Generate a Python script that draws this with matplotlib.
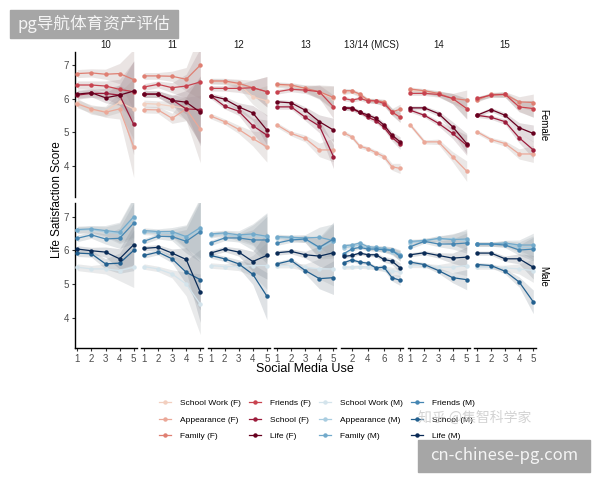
import matplotlib
matplotlib.use("Agg")
import matplotlib.pyplot as plt
from matplotlib.lines import Line2D
from matplotlib.patches import Rectangle

plt.rcParams['font.family'] = ['Liberation Sans', 'DejaVu Sans']

# panels (age groups) and social media use levels
ages = ['10', '11', '12', '13', '13/14 (MCS)', '14', '15']
use_5 = [1, 2, 3, 4, 5]
use_mcs = [1, 2, 3, 4, 5, 6, 7, 8]

# Female series, one list per age panel
school_work_f = [[5.89, 5.66, 5.63, 5.90, 5.70], [5.86, 5.84, 5.78, 5.72, 5.66],
                 [6.52, 6.50, 6.44, 6.06, 5.94], [6.40, 6.38, 6.30, 6.18, 6.02],
                 [6.20, 6.22, 6.10, 5.95, 5.92, 5.88, 5.62, 5.45],
                 [6.25, 6.22, 6.15, 6.00, 5.70], [6.00, 6.10, 6.12, 5.78, 5.70]]
appearance_f = [[5.85, 5.70, 5.60, 5.70, 4.57], [5.68, 5.67, 5.42, 5.70, 5.10],
                [5.49, 5.32, 5.09, 4.82, 4.57], [5.22, 4.97, 4.82, 4.48, 4.48],
                [4.99, 4.87, 4.59, 4.52, 4.40, 4.28, 3.98, 3.93],
                [5.22, 4.72, 4.72, 4.28, 3.85], [5.02, 4.79, 4.67, 4.36, 4.36]]
family_f = [[6.75, 6.77, 6.73, 6.75, 6.57], [6.68, 6.68, 6.67, 6.58, 7.00],
            [6.53, 6.53, 6.46, 6.33, 6.21], [6.43, 6.41, 6.31, 6.21, 6.04],
            [6.24, 6.24, 6.14, 5.96, 5.94, 5.91, 5.61, 5.69],
            [6.29, 6.24, 6.16, 6.01, 5.96], [5.96, 6.13, 6.13, 5.91, 5.89]]
friends_f = [[6.41, 6.41, 6.38, 6.28, 6.21], [6.35, 6.43, 6.33, 6.38, 6.50],
             [6.31, 6.31, 6.31, 6.33, 6.21], [6.21, 6.28, 6.26, 6.21, 5.76],
             [6.01, 5.96, 6.01, 5.94, 5.94, 5.86, 5.61, 5.45],
             [6.16, 6.16, 6.13, 6.01, 5.71], [6.01, 6.11, 6.13, 5.76, 5.71]]
school_f = [[6.11, 6.16, 6.16, 6.11, 5.24], [6.14, 6.14, 5.97, 5.70, 5.68],
            [6.09, 5.78, 5.63, 5.20, 4.92], [5.76, 5.76, 5.45, 5.19, 4.28],
            [5.73, 5.70, 5.60, 5.45, 5.35, 5.15, 4.85, 4.65],
            [5.66, 5.51, 5.27, 4.97, 4.62], [5.51, 5.45, 5.32, 4.84, 4.48]]
life_f = [[6.14, 6.18, 6.03, 6.11, 6.23], [6.14, 6.14, 5.95, 5.90, 5.60],
          [6.09, 5.99, 5.76, 5.58, 5.07], [5.91, 5.88, 5.66, 5.32, 5.07],
          [5.73, 5.73, 5.60, 5.52, 5.42, 5.22, 4.92, 4.72],
          [5.73, 5.73, 5.56, 5.17, 4.67], [5.51, 5.68, 5.51, 5.14, 4.97]]

# Male series
school_work_m = [[5.50, 5.45, 5.45, 5.40, 5.50], [5.52, 5.45, 5.30, 5.00, 4.40],
                 [5.55, 5.52, 5.52, 5.55, 5.55], [5.55, 5.55, 5.50, 5.45, 5.45],
                 [5.50, 5.50, 5.52, 5.50, 5.48, 5.45, 5.40, 5.35],
                 [5.55, 5.55, 5.50, 5.50, 5.55], [5.50, 5.50, 5.48, 5.45, 5.40]]
appearance_m = [[6.60, 6.62, 6.55, 6.50, 6.95], [6.55, 6.52, 6.50, 6.38, 6.62],
                [6.45, 6.50, 6.40, 6.45, 6.38], [6.38, 6.36, 6.33, 6.05, 6.27],
                [6.08, 6.12, 6.16, 6.06, 6.04, 6.03, 5.96, 5.85],
                [6.22, 6.30, 6.33, 6.35, 6.28], [6.18, 6.18, 6.20, 6.10, 6.08]]
family_m = [[6.62, 6.64, 6.59, 6.54, 7.00], [6.59, 6.56, 6.56, 6.41, 6.68],
            [6.49, 6.52, 6.46, 6.49, 6.42], [6.41, 6.39, 6.37, 6.39, 6.29],
            [6.14, 6.16, 6.22, 6.11, 6.09, 6.06, 6.00, 5.87],
            [6.27, 6.29, 6.36, 6.32, 6.34], [6.19, 6.19, 6.22, 6.16, 6.16]]
friends_m = [[6.36, 6.46, 6.34, 6.36, 6.81], [6.27, 6.42, 6.41, 6.27, 6.56],
             [6.22, 6.37, 6.37, 6.31, 6.31], [6.22, 6.31, 6.34, 6.09, 6.34],
             [5.90, 6.04, 6.09, 6.04, 6.04, 6.02, 6.00, 5.82],
             [6.11, 6.27, 6.19, 6.19, 6.22], [6.19, 6.19, 6.16, 6.01, 6.04]]
school_m = [[5.92, 5.90, 5.60, 5.62, 6.00], [5.85, 5.95, 5.75, 5.35, 5.13],
            [5.85, 5.75, 5.60, 5.29, 4.64], [5.60, 5.70, 5.40, 5.16, 5.19],
            [5.63, 5.72, 5.65, 5.62, 5.48, 5.50, 5.19, 5.11],
            [5.65, 5.58, 5.40, 5.19, 5.13], [5.58, 5.55, 5.38, 5.06, 4.47]]
life_m = [[6.04, 5.99, 5.95, 5.75, 6.17], [6.06, 6.09, 5.92, 5.73, 4.76],
          [5.92, 6.04, 5.95, 5.67, 5.85], [5.93, 5.97, 5.87, 5.83, 5.93],
          [5.82, 5.85, 5.92, 5.87, 5.87, 5.73, 5.68, 5.48],
          [5.87, 5.93, 5.85, 5.77, 5.80], [5.92, 5.92, 5.75, 5.75, 5.50]]

# confidence band half widths, per panel and use level
ci_f = [[0.12, 0.12, 0.15, 0.30, 0.90], [0.10, 0.10, 0.15, 0.35, 1.00],
        [0.08, 0.08, 0.12, 0.22, 0.45], [0.07, 0.07, 0.10, 0.20, 0.35],
        [0.07, 0.06, 0.06, 0.06, 0.07, 0.08, 0.10, 0.15],
        [0.06, 0.06, 0.08, 0.15, 0.30], [0.06, 0.06, 0.08, 0.15, 0.25]]
ci_m = [[0.10, 0.10, 0.15, 0.30, 0.60], [0.08, 0.08, 0.12, 0.35, 0.90],
        [0.08, 0.08, 0.12, 0.30, 0.70], [0.07, 0.07, 0.10, 0.30, 0.50],
        [0.06, 0.05, 0.05, 0.05, 0.06, 0.08, 0.10, 0.15],
        [0.06, 0.06, 0.08, 0.15, 0.30], [0.06, 0.06, 0.08, 0.15, 0.35]]

labels_f = ['School Work (F)', 'Appearance (F)', 'Family (F)', 'Friends (F)', 'School (F)', 'Life (F)']
labels_m = ['School Work (M)', 'Appearance (M)', 'Family (M)', 'Friends (M)', 'School (M)', 'Life (M)']
colors_f = ['#f2cfbf', '#eba898', '#df7f72', '#c8434f', '#9c1c3b', '#67001f']
colors_m = ['#d4e4ec', '#a9cde0', '#72aacb', '#4586b2', '#23608f', '#0a2b56']

series_f = [school_work_f, appearance_f, family_f, friends_f, school_f, life_f]
series_m = [school_work_m, appearance_m, family_m, friends_m, school_m, life_m]

fig = plt.figure(figsize=(6, 4.8), dpi=100)

W, H = 600.0, 480.0
rows = [(196.7, series_f, colors_f, ci_f), (348.3, series_m, colors_m, ci_m)]
for r, (bottom_px, series, colors, ci) in enumerate(rows):
    for i in range(len(ages)):
        left_px = 74.5 + i * 66.6
        ax = fig.add_axes([left_px / W, 1 - bottom_px / H, 62 / W, 145 / H])
        xs = use_mcs if i == 4 else use_5
        for vals, col in zip(series, colors):
            y = vals[i]
            lo = [v - c for v, c in zip(y, ci[i])]
            hi = [v + c for v, c in zip(y, ci[i])]
            ax.fill_between(xs, lo, hi, color='#b0b0b0', alpha=0.25, lw=0)
            ax.fill_between(xs, lo, hi, color=col, alpha=0.06, lw=0)
        for vals, col in zip(series, colors):
            ax.plot(xs, vals[i], color=col, lw=0.9, marker='o', ms=2.2, zorder=3)
        ax.set_ylim(3.09, 7.40)
        if i == 4:
            ax.set_xlim(0.65, 8.35)
            ax.set_xticks([2, 4, 6, 8])
        else:
            ax.set_xlim(0.8, 5.2)
            ax.set_xticks(use_5)
        for s in ['top', 'right']:
            ax.spines[s].set_visible(False)
        ax.spines['left'].set_visible(i == 0)
        ax.spines['bottom'].set_visible(r == 1)
        ax.spines['left'].set_linewidth(1.0)
        ax.spines['bottom'].set_linewidth(1.0)
        ax.tick_params(colors='#333333', labelcolor='#4d4d4d', labelsize=7,
                       length=2.5, width=0.8, pad=1.5)
        if i == 0:
            ax.set_yticks([4, 5, 6, 7])
        else:
            ax.set_yticks([])
        if r == 0:
            ax.set_xticks([])
            ax.set_title(ages[i], fontsize=7, pad=3, color='#1a1a1a')
        ax.patch.set_alpha(0)

fig.text(543 / W, 1 - 125 / H, 'Female', rotation=-90, ha='center', va='center', fontsize=7)
fig.text(543 / W, 1 - 276 / H, 'Male', rotation=-90, ha='center', va='center', fontsize=7)
fig.text(57 / W, 1 - 200 / H, 'Life Satisfaction Score', rotation=90, ha='center', va='center', fontsize=8.5)
fig.text(305 / W, 1 - 369 / H, 'Social Media Use', ha='center', va='center', fontsize=9)

handles = []
for lab, col in zip(labels_f + labels_m, colors_f + colors_m):
    handles.append(Line2D([], [], color=col, lw=0.9, marker='o', ms=2.2, label=lab))
fig.legend(handles=handles, loc='upper left', bbox_to_anchor=(155 / W, 1 - 395 / H),
           ncol=4, frameon=False, fontsize=6, handlelength=1.4, handletextpad=1.1,
           columnspacing=1.0, labelspacing=1.05, borderpad=0)

# watermarks
fig.patches.append(Rectangle((10 / W, 1 - 38 / H), 168 / W, 28 / H, transform=fig.transFigure,
                             color='#a6a6a6', zorder=5))
fig.text(94 / W, 1 - 24 / H, 'pg导航体育资产评估', ha='center', va='center', fontsize=12,
         color='#f4f4f4', family=['Noto Sans CJK SC', 'DejaVu Sans'], zorder=6)
fig.text(475 / W, 1 - 418 / H, '知乎 @集智科学家', ha='center', va='center', fontsize=10,
         color='#c8c8c8', alpha=0.8, family=['Noto Sans CJK SC', 'DejaVu Sans'], zorder=6)
fig.patches.append(Rectangle((418 / W, 1 - 472 / H), 172 / W, 32 / H, transform=fig.transFigure,
                             color='#a6a6a6', zorder=5))
fig.text(504 / W, 1 - 455 / H, 'cn-chinese-pg.com', ha='center', va='center', fontsize=12,
         color='#f4f4f4', family=['Noto Sans CJK SC', 'DejaVu Sans'], zorder=6)

fig.savefig('out.png', dpi=100)
